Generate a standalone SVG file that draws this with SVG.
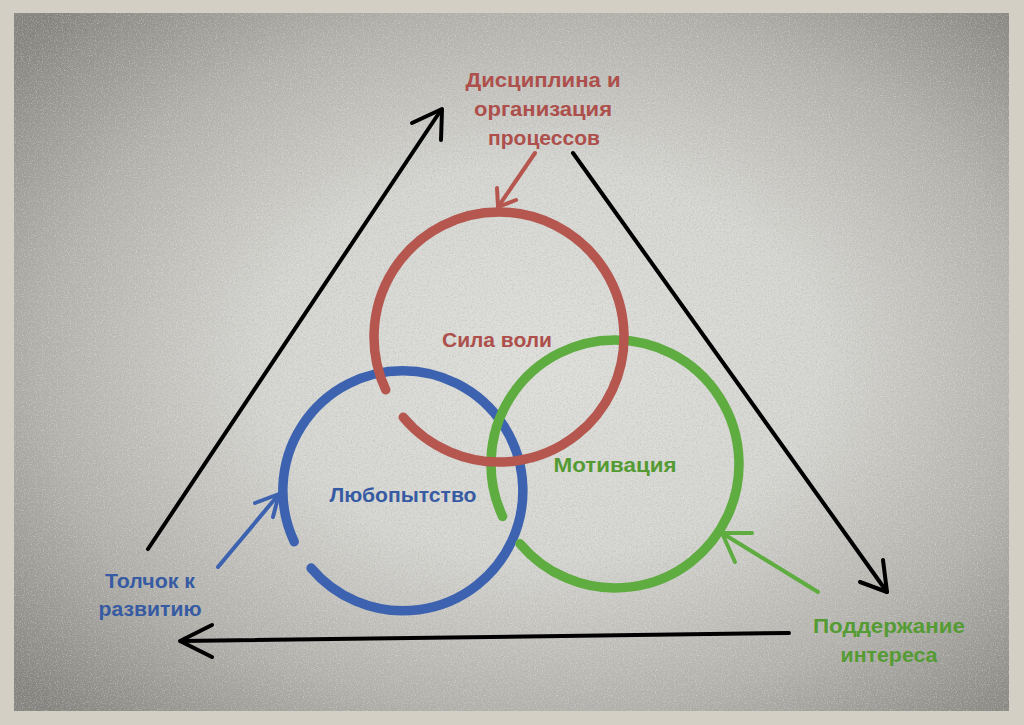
<svg xmlns="http://www.w3.org/2000/svg" width="1024" height="725" viewBox="0 0 1024 725">
<defs>
<radialGradient id="vig" cx="0.53" cy="0.5" r="0.7">
<stop offset="0" stop-color="#dcdcd8"/>
<stop offset="0.4" stop-color="#d3d3cf"/>
<stop offset="0.72" stop-color="#b2b0ab"/>
<stop offset="1" stop-color="#85837e"/>
</radialGradient>
<filter id="grain" x="0" y="0" width="100%" height="100%">
<feTurbulence type="fractalNoise" baseFrequency="0.85" numOctaves="2" seed="4"/>
<feColorMatrix type="matrix" values="0 0 0 0 1  0 0 0 0 1  0 0 0 0 1  1.6 0 0 0 -0.75"/>
</filter>
<filter id="grain2" x="0" y="0" width="100%" height="100%">
<feTurbulence type="fractalNoise" baseFrequency="0.55" numOctaves="2" seed="9"/>
<feColorMatrix type="matrix" values="0 0 0 0 0.35  0 0 0 0 0.35  0 0 0 0 0.33  0 1.6 0 0 -0.8"/>
</filter>
</defs>
<style>
.lbl{font-family:"Liberation Sans","Open Sans",Arial,sans-serif;font-weight:bold;font-size:21px;text-anchor:middle}
.red{fill:#ad4f4b}
.blue{fill:#375ba3}
.green{fill:#559b34}
.ring{fill:none;stroke-width:9.5;stroke-linecap:round}
.blk{fill:none;stroke:#000;stroke-width:4;stroke-linecap:round;stroke-linejoin:round}
.carr{fill:none;stroke-width:4;stroke-linecap:round;stroke-linejoin:round}
</style>
<rect x="0" y="0" width="1024" height="725" fill="#d3cfc5"/>
<rect x="14" y="13" width="995" height="698" fill="url(#vig)"/>
<rect x="14" y="13" width="995" height="698" filter="url(#grain)" opacity="0.5"/>
<rect x="14" y="13" width="995" height="698" filter="url(#grain2)" opacity="0.45"/>

<g id="node-curiosity">
<path class="ring" stroke="#3d63b0" d="M294.2 541.7 A120 120 0 1 1 311.1 568.1"/>
<text class="lbl blue" x="403" y="502" textLength="147" lengthAdjust="spacingAndGlyphs">Любопытство</text>
</g>
<g id="node-motivation">
<path class="ring" stroke="#5fac40" d="M502.6 516.4 A124 124 0 1 1 520 543.7"/>
<text class="lbl green" x="615" y="472" textLength="123" lengthAdjust="spacingAndGlyphs">Мотивация</text>
</g>
<g id="node-willpower">
<path class="ring" stroke="#b5564f" d="M385.7 389.8 A125 125 0 1 1 403.2 417.3"/>
<text class="lbl red" x="497" y="347" textLength="110" lengthAdjust="spacingAndGlyphs">Сила воли</text>
</g>

<g id="node-discipline">
<text class="lbl red" x="543" y="87" textLength="155" lengthAdjust="spacingAndGlyphs">Дисциплина и</text>
<text class="lbl red" x="543" y="116" textLength="138" lengthAdjust="spacingAndGlyphs">организация</text>
<text class="lbl red" x="544" y="145" textLength="112" lengthAdjust="spacingAndGlyphs">процессов</text>
</g>
<g id="node-push">
<text class="lbl blue" x="150" y="588" textLength="90" lengthAdjust="spacingAndGlyphs">Толчок к</text>
<text class="lbl blue" x="150" y="616" textLength="103" lengthAdjust="spacingAndGlyphs">развитию</text>
</g>
<g id="node-interest">
<text class="lbl green" x="889" y="633" textLength="152" lengthAdjust="spacingAndGlyphs">Поддержание</text>
<text class="lbl green" x="889" y="662" textLength="97" lengthAdjust="spacingAndGlyphs">интереса</text>
</g>

<g id="connectors">
<path class="blk" d="M148 549 L441 110"/>
<path class="blk" d="M412 123 L442 109 L441 140"/>
<path class="blk" d="M573 153 L887 592"/>
<path class="blk" d="M883 560 L887 592 L860 582"/>
<path class="blk" d="M789 633 L181 641"/>
<path class="blk" d="M212 625 L180 641 L212 657"/>
<path class="carr" stroke="#b5564f" d="M535 153 L498 207"/>
<path class="carr" stroke="#b5564f" d="M497 188 L498 207 L516 200"/>
<path class="carr" stroke="#3d63b0" d="M218 567 L279 494"/>
<path class="carr" stroke="#3d63b0" d="M255 503 L279 494 L273 517"/>
<path class="carr" stroke="#5fac40" d="M818 592 L722 533"/>
<path class="carr" stroke="#5fac40" d="M752 533 L722 533 L735 562"/>
</g>
</svg>
